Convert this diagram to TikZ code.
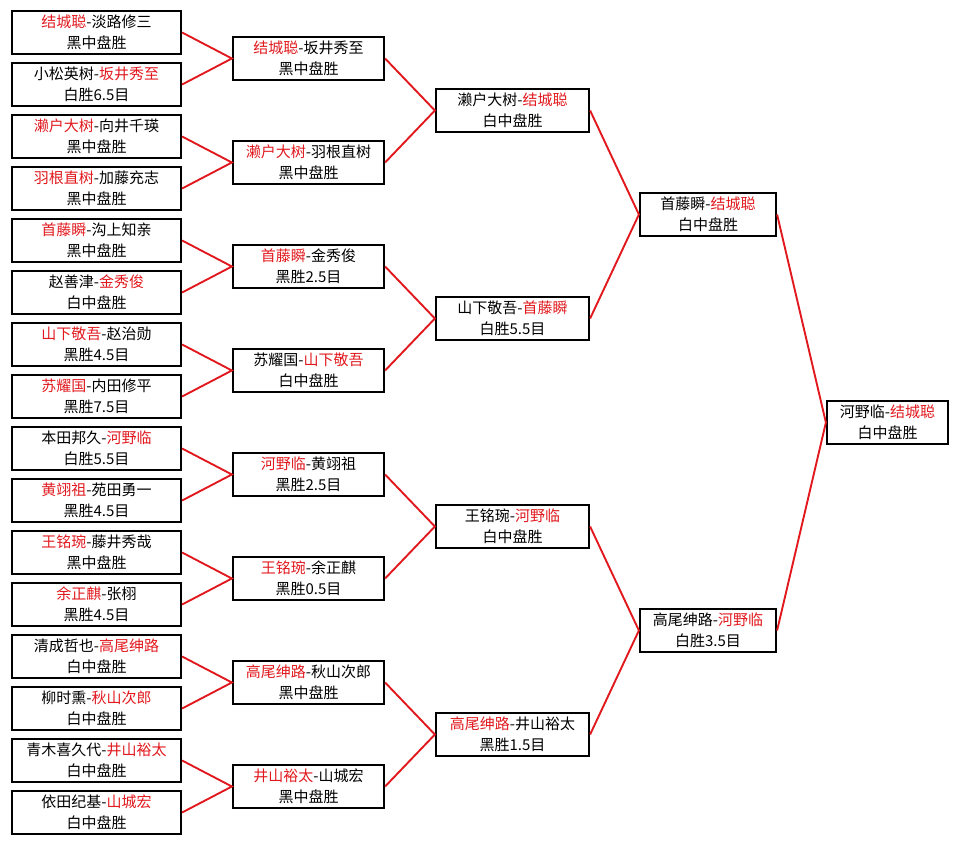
\documentclass[tikz,border=0pt]{standalone}
\usepackage{fontspec}
\setmainfont{Noto Sans CJK SC}
\definecolor{winred}{RGB}{225,25,30}
\newcommand{\win}[1]{\textcolor{winred}{#1}}

\begin{document}
\begin{tikzpicture}[x=1pt,y=-1pt]
\tikzset{MatchBox/.style = {shape=rectangle, draw, line width=2.2pt, align=center, inner sep=0pt, minimum height=43pt, font=\fontsize{15}{21}\selectfont},
BoxA/.style = {MatchBox, minimum width=169pt}, BoxB/.style = {MatchBox, minimum width=151pt}, BoxC/.style = {MatchBox, minimum width=153pt},
BoxD/.style = {MatchBox, minimum width=136pt}, BoxE/.style = {MatchBox, minimum width=121pt},
LinkStyle/.style = {draw=winred, line width=1.9pt}}
\useasboundingbox (0,0) rectangle (959,845);
\node[BoxA] (A1) at (96.5,32.5) {\win{结城聪}-淡路修三\\黑中盘胜}; \node[BoxA] (A2) at (96.5,84.5) {小松英树-\win{坂井秀至}\\白胜6.5目};
\node[BoxA] (A3) at (96.5,136.5) {\win{濑户大树}-向井千瑛\\黑中盘胜}; \node[BoxA] (A4) at (96.5,188.5) {\win{羽根直树}-加藤充志\\黑中盘胜};
\node[BoxA] (A5) at (96.5,240.5) {\win{首藤瞬}-沟上知亲\\黑中盘胜}; \node[BoxA] (A6) at (96.5,292.5) {赵善津-\win{金秀俊}\\白中盘胜};
\node[BoxA] (A7) at (96.5,344.5) {\win{山下敬吾}-赵治勋\\黑胜4.5目}; \node[BoxA] (A8) at (96.5,396.5) {\win{苏耀国}-内田修平\\黑胜7.5目};
\node[BoxA] (A9) at (96.5,448.5) {本田邦久-\win{河野临}\\白胜5.5目}; \node[BoxA] (A10) at (96.5,500.5) {\win{黄翊祖}-苑田勇一\\黑胜4.5目};
\node[BoxA] (A11) at (96.5,552.5) {\win{王铭琬}-藤井秀哉\\黑中盘胜}; \node[BoxA] (A12) at (96.5,604.5) {\win{余正麒}-张栩\\黑胜4.5目};
\node[BoxA] (A13) at (96.5,656.5) {清成哲也-\win{高尾绅路}\\白中盘胜}; \node[BoxA] (A14) at (96.5,708.5) {柳时熏-\win{秋山次郎}\\白中盘胜};
\node[BoxA] (A15) at (96.5,760.5) {青木喜久代-\win{井山裕太}\\白中盘胜}; \node[BoxA] (A16) at (96.5,812.5) {依田纪基-\win{山城宏}\\白中盘胜};

\node[BoxB] (B1) at (308.5,58.5) {\win{结城聪}-坂井秀至\\黑中盘胜}; \node[BoxB] (B2) at (308.5,162.5) {\win{濑户大树}-羽根直树\\黑中盘胜};
\node[BoxB] (B3) at (308.5,266.5) {\win{首藤瞬}-金秀俊\\黑胜2.5目}; \node[BoxB] (B4) at (308.5,370.5) {苏耀国-\win{山下敬吾}\\白中盘胜};
\node[BoxB] (B5) at (308.5,474.5) {\win{河野临}-黄翊祖\\黑胜2.5目}; \node[BoxB] (B6) at (308.5,578.5) {\win{王铭琬}-余正麒\\黑胜0.5目};
\node[BoxB] (B7) at (308.5,682.5) {\win{高尾绅路}-秋山次郎\\黑中盘胜}; \node[BoxB] (B8) at (308.5,786.5) {\win{井山裕太}-山城宏\\黑中盘胜};

\node[BoxC] (C1) at (512.5,110.5) {濑户大树-\win{结城聪}\\白中盘胜}; \node[BoxC] (C2) at (512.5,318.5) {山下敬吾-\win{首藤瞬}\\白胜5.5目};
\node[BoxC] (C3) at (512.5,526.5) {王铭琬-\win{河野临}\\白中盘胜}; \node[BoxC] (C4) at (512.5,734.5) {\win{高尾绅路}-井山裕太\\黑胜1.5目};

\node[BoxD] (D1) at (708,214.5) {首藤瞬-\win{结城聪}\\白中盘胜}; \node[BoxD] (D2) at (708,630.5) {高尾绅路-\win{河野临}\\白胜3.5目};

\node[BoxE] (E1) at (887.5,422.5) {河野临-\win{结城聪}\\白中盘胜};

\draw[LinkStyle] (A1.east) -- (B1.west) -- (A2.east); \draw[LinkStyle] (A3.east) -- (B2.west) -- (A4.east);
\draw[LinkStyle] (A5.east) -- (B3.west) -- (A6.east); \draw[LinkStyle] (A7.east) -- (B4.west) -- (A8.east);
\draw[LinkStyle] (A9.east) -- (B5.west) -- (A10.east); \draw[LinkStyle] (A11.east) -- (B6.west) -- (A12.east);
\draw[LinkStyle] (A13.east) -- (B7.west) -- (A14.east); \draw[LinkStyle] (A15.east) -- (B8.west) -- (A16.east);
\draw[LinkStyle] (B1.east) -- (C1.west) -- (B2.east); \draw[LinkStyle] (B3.east) -- (C2.west) -- (B4.east);
\draw[LinkStyle] (B5.east) -- (C3.west) -- (B6.east); \draw[LinkStyle] (B7.east) -- (C4.west) -- (B8.east);
\draw[LinkStyle] (C1.east) -- (D1.west) -- (C2.east); \draw[LinkStyle] (C3.east) -- (D2.west) -- (C4.east);
\draw[LinkStyle] (D1.east) -- (E1.west) -- (D2.east);
\end{tikzpicture}
\end{document}
